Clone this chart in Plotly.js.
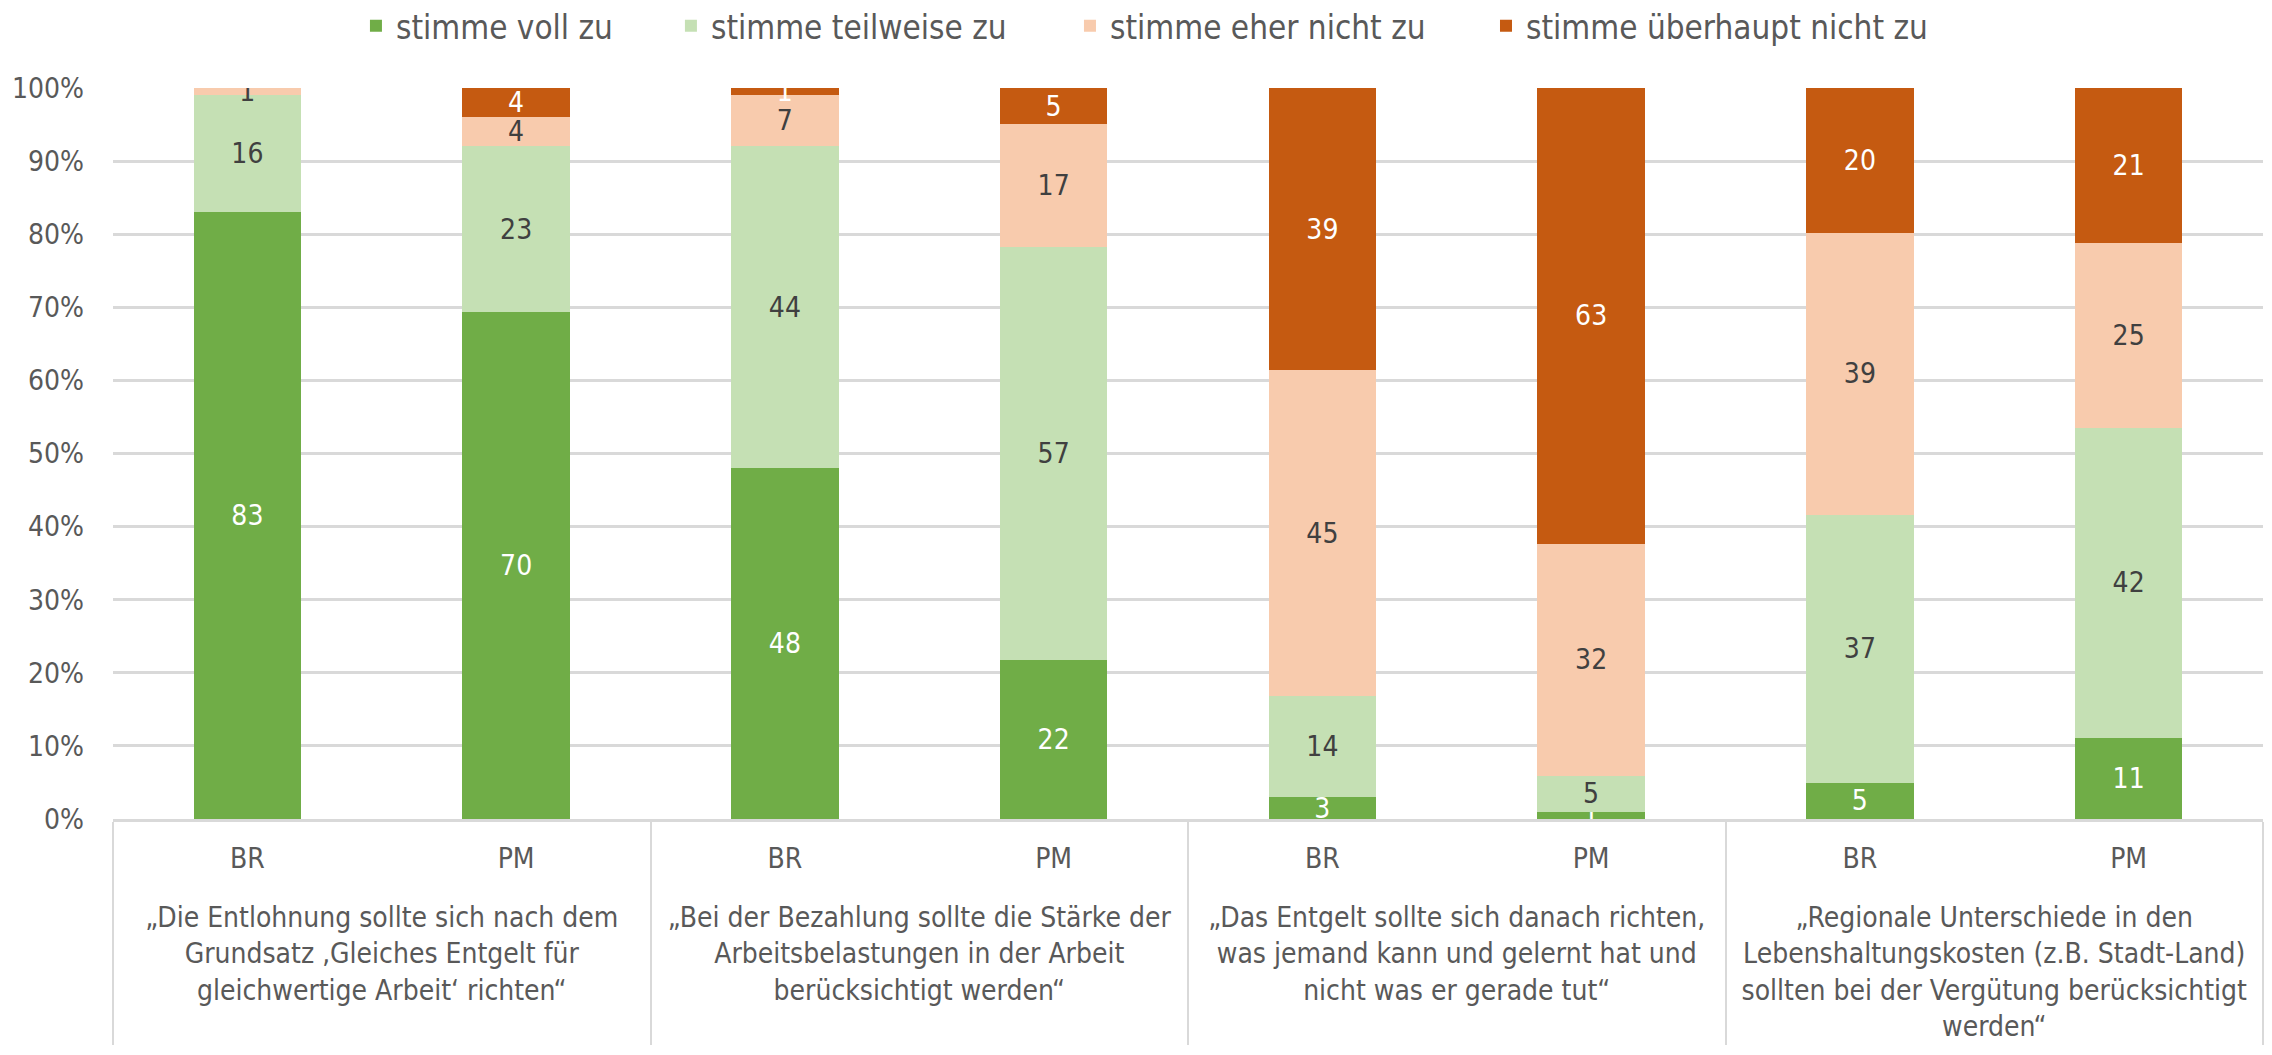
<!DOCTYPE html>
<html>
<head>
<meta charset="utf-8">
<script src="https://cdn.plot.ly/plotly-3.0.1.min.js"></script>
<style>
  html, body { margin: 0; padding: 0; background: #fff; }
  #chart { width: 2272px; height: 1055px; }
</style>
</head>
<body>
<div id="chart"></div>
<script>
// Statements (group level of the x axis)
const statements = [
  '„Die Entlohnung sollte sich nach dem<br>Grundsatz ‚Gleiches Entgelt für<br>gleichwertige Arbeit‘ richten“',
  '„Bei der Bezahlung sollte die Stärke der<br>Arbeitsbelastungen in der Arbeit<br>berücksichtigt werden“',
  '„Das Entgelt sollte sich danach richten,<br>was jemand kann und gelernt hat und<br>nicht was er gerade tut“',
  '„Regionale Unterschiede in den<br>Lebenshaltungskosten (z.B. Stadt-Land)<br>sollten bei der Vergütung berücksichtigt<br>werden“'
];
// Respondent groups within each statement
const respondents = ['BR', 'PM'];

// Answer shares (in %), one value per bar: BR, PM for each statement
const vollZu          = [83, 70, 48, 22,  3,  1,  5, 11];
const teilweiseZu     = [16, 23, 44, 57, 14,  5, 37, 42];
const eherNichtZu     = [ 1,  4,  7, 17, 45, 32, 39, 25];
const ueberhauptNicht = [ 0,  4,  1,  5, 39, 63, 20, 21];

const seriesNames  = ['stimme voll zu', 'stimme teilweise zu', 'stimme eher nicht zu', 'stimme überhaupt nicht zu'];
const seriesValues = [vollZu, teilweiseZu, eherNichtZu, ueberhauptNicht];
const seriesColors = ['#70AD47', '#C5E0B4', '#F8CBAD', '#C55A11'];
const labelColors  = ['#FFFFFF', '#404040', '#404040', '#FFFFFF'];

// One legend per series so the entries can be spread across the top
const legendIds  = ['legend', 'legend2', 'legend3', 'legend4'];
const legendXPos = [0.113, 0.2595, 0.4451, 0.6386];

// Build the two-level category coordinates; the blank second line on the
// respondent labels leaves room above the statement texts
const xGroup = [], xSub = [];
statements.forEach(s => respondents.forEach(r => { xGroup.push(s); xSub.push(r + '<br>\u00a0'); }));

const FONT = '"Liberation Sans Narrow", "DejaVu Sans Condensed", "Roboto", sans-serif';

const traces = seriesNames.map((name, i) => ({
  type: 'bar',
  name: name,
  legend: legendIds[i],
  x: [xGroup, xSub],
  y: seriesValues[i],
  text: seriesValues[i].map(String),
  textposition: 'inside',
  insidetextanchor: 'middle',
  textangle: 0,
  textfont: { family: FONT, size: 28, color: labelColors[i] },
  marker: { color: seriesColors[i], line: { width: 0 } },
  hoverinfo: 'name+y'
}));

const layout = {
  width: 2272,
  height: 1055,
  barmode: 'stack',
  barnorm: 'percent',
  bargap: 0.6,
  paper_bgcolor: '#FFFFFF',
  plot_bgcolor: '#FFFFFF',
  font: { family: FONT, size: 28, color: '#595959' },
  margin: { l: 113, r: 9, t: 88, b: 236, pad: 0, autoexpand: false },
  uniformtext: { mode: 'show', minsize: 28 },
  showlegend: true,
  xaxis: {
    type: 'multicategory',
    automargin: false,
    showgrid: false,
    showline: true,
    linecolor: '#D9D9D9',
    linewidth: 3,
    ticks: '',
    ticklabelstandoff: 12,
    showdividers: true,
    dividercolor: '#D9D9D9',
    dividerwidth: 2,
    tickfont: { family: FONT, size: 28, color: '#595959' }
  },
  yaxis: {
    automargin: false,
    range: [0, 100],
    dtick: 10,
    ticksuffix: '%',
    showgrid: true,
    gridcolor: '#D9D9D9',
    gridwidth: 3,
    zeroline: false,
    showline: false,
    ticks: '',
    ticklabelstandoff: 28,
    tickfont: { family: FONT, size: 28, color: '#595959' }
  }
};

legendIds.forEach((id, i) => {
  layout[id] = {
    orientation: 'h',
    x: legendXPos[i], xanchor: 'left',
    y: 1.085, yanchor: 'middle',
    bgcolor: 'rgba(0,0,0,0)',
    font: { family: FONT, size: 33, color: '#595959' }
  };
});

Plotly.newPlot('chart', traces, layout, { displayModeBar: false, staticPlot: true });
</script>
</body>
</html>
